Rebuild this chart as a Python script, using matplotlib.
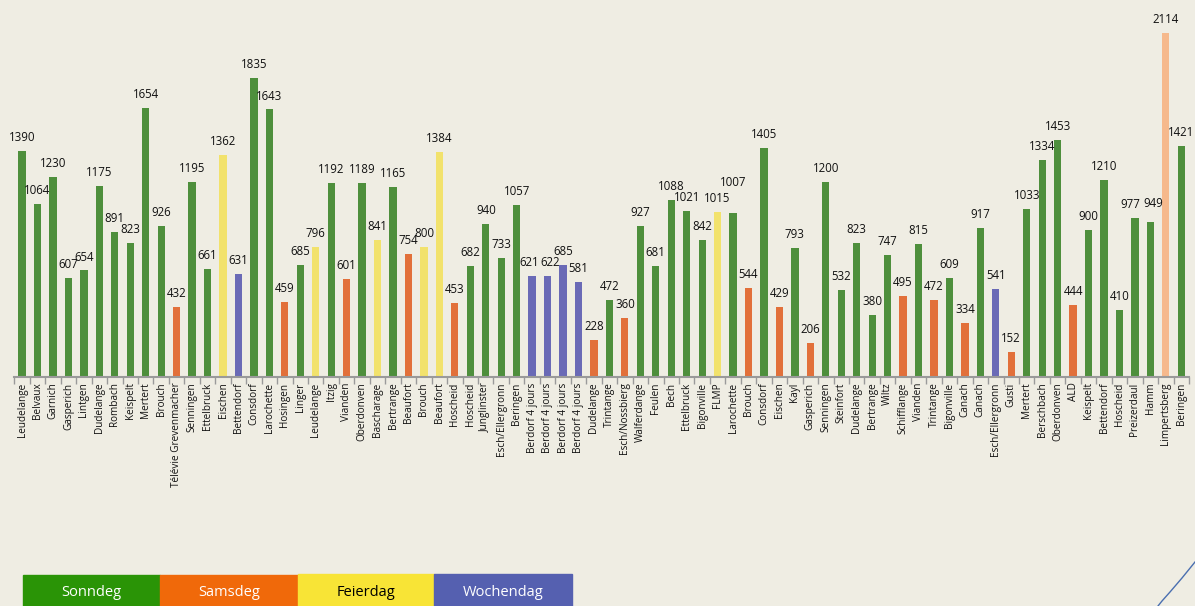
import numpy as np
import matplotlib
matplotlib.use('Agg')
from matplotlib import pyplot as plt
from matplotlib.patches import Rectangle
from matplotlib.lines import Line2D

places = ['Leudelange', 'Belvaux', 'Garnich', 'Gasperich', 'Lintgen', 'Dudelange', 'Rombach',
          'Keispelt', 'Mertert', 'Brouch', 'Télévie Grevenmacher', 'Senningen', 'Ettelbruck',
          'Eischen', 'Bettendorf', 'Consdorf', 'Larochette', 'Hosingen', 'Linger', 'Leudelange',
          'Itzig', 'Vianden', 'Oberdonven', 'Bascharage', 'Bertrange', 'Beaufort', 'Brouch',
          'Beaufort', 'Hoscheid', 'Hoscheid', 'Junglinster', 'Esch/Ellergronn', 'Beringen',
          'Berdorf 4 jours', 'Berdorf 4 jours', 'Berdorf 4 jours', 'Berdorf 4 jours', 'Dudelange',
          'Trintange', 'Esch/Nossbierg', 'Walferdange', 'Feulen', 'Bech', 'Ettelbruck',
          'Bigonville', 'FLMP', 'Larochette', 'Brouch', 'Consdorf', 'Eischen', 'Kayl',
          'Gasperich', 'Senningen', 'Steinfort', 'Dudelange', 'Bertrange', 'Wiltz', 'Schifflange',
          'Vianden', 'Trintange', 'Bigonville', 'Canach', 'Canach', 'Esch/Ellergronn', 'Gusti',
          'Mertert', 'Berschbach', 'Oberdonven', 'ALD', 'Keispelt', 'Bettendorf', 'Hoscheid',
          'Preizerdaul', 'Hamm', 'Limpertsberg', 'Beringen']

values = [1390, 1064, 1230, 607, 654, 1175, 891, 823, 1654, 926, 432, 1195, 661, 1362, 631,
          1835, 1643, 459, 685, 796, 1192, 601, 1189, 841, 1165, 754, 800, 1384, 453, 682,
          940, 733, 1057, 621, 622, 685, 581, 228, 472, 360, 927, 681, 1088, 1021, 842, 1015,
          1007, 544, 1405, 429, 793, 206, 1200, 532, 823, 380, 747, 495, 815, 472, 609, 334,
          917, 541, 152, 1033, 1334, 1453, 444, 900, 1210, 410, 977, 949, 2114, 1421]

# S = Sonndeg, A = Samsdeg, F = Feierdag, W = Wochendag, L = light orange (Limpertsberg)
day_type = list('SSSSSSSSSS' 'ASSFWSSASF' 'SASFSAFFAS' 'SSSWWWWASA'
                'SSSSSFSASA' 'SASSSSSASA' 'SASWASSSAS' 'SSSSLS')

legend_names = ['Sonndeg', 'Samsdeg', 'Feierdag', 'Wochendag']

bar_colors = {'S': '#4e8f3c', 'A': '#e2703a', 'F': '#f2e26c', 'W': '#6a6ab6', 'L': '#f6b98c'}
legend_colors = ['#2a9406', '#f0690a', '#f8e436', '#5560b0']
legend_text = ['white', 'white', 'black', 'white']

bg = '#efede3'
plt.rcParams['font.family'] = ['Open Sans', 'DejaVu Sans']

fig = plt.figure(figsize=(11.95, 6.06), dpi=100, facecolor=bg)
ax = fig.add_axes([0.012, 0.378, 0.983, 0.591])
ax.set_facecolor(bg)

x = np.arange(len(values))
ax.bar(x, values, width=0.47, color=[bar_colors[t] for t in day_type], zorder=2)

# a few labels are nudged so neighbours don't collide
nudge = {46: (0, 12), 33: (-2, 0), 34: (2, 0), 72: (-3, 0), 73: (2, 4)}
for xi, v in zip(x, values):
    dx, dy = nudge.get(xi, (0, 0))
    ax.annotate(str(v), (xi, v), xytext=(dx, 5 + dy), textcoords='offset points',
                ha='center', va='bottom', fontsize=8.3, color='#111111')

ax.set_xlim(-0.5, len(values) - 0.5)
ax.set_ylim(0, 2200)
ax.set_yticks([])
ax.set_xticks(x)
ax.set_xticklabels(places, rotation=90, fontsize=7.2, color='#111111')
ax.tick_params(axis='x', which='major', length=0, pad=4)
ax.set_xticks(np.arange(-0.5, len(values), 1), minor=True)
ax.tick_params(axis='x', which='minor', length=5, color='#9a9a9a', width=1)
for s in ['top', 'right', 'left']:
    ax.spines[s].set_visible(False)
ax.spines['bottom'].set_color('#9a9a9a')
ax.spines['bottom'].set_linewidth(1.5)

# legend boxes at the bottom
W, H = 1195, 606
box_x = [23, 160, 298, 434]
box_w = [137, 138, 136, 138]
for i, name in enumerate(legend_names):
    top = 574 if i >= 2 else 575
    fig.patches.append(Rectangle((box_x[i] / W, 0), box_w[i] / W, (H - top) / H,
                                 transform=fig.transFigure, color=legend_colors[i], zorder=0))
    fig.text((box_x[i] + box_w[i] / 2) / W, (H - 593) / H, name, ha='center', va='center',
             fontsize=10.5, color=legend_text[i])

# decorative arc in the corner
fig.add_artist(Line2D(np.array([1195, 1182, 1170, 1162, 1158]) / W,
                      1 - np.array([562, 578, 592, 601, 606]) / H,
                      transform=fig.transFigure, color='#4a6fb0', lw=1))

fig.savefig('out.png', dpi=100, facecolor=bg)
